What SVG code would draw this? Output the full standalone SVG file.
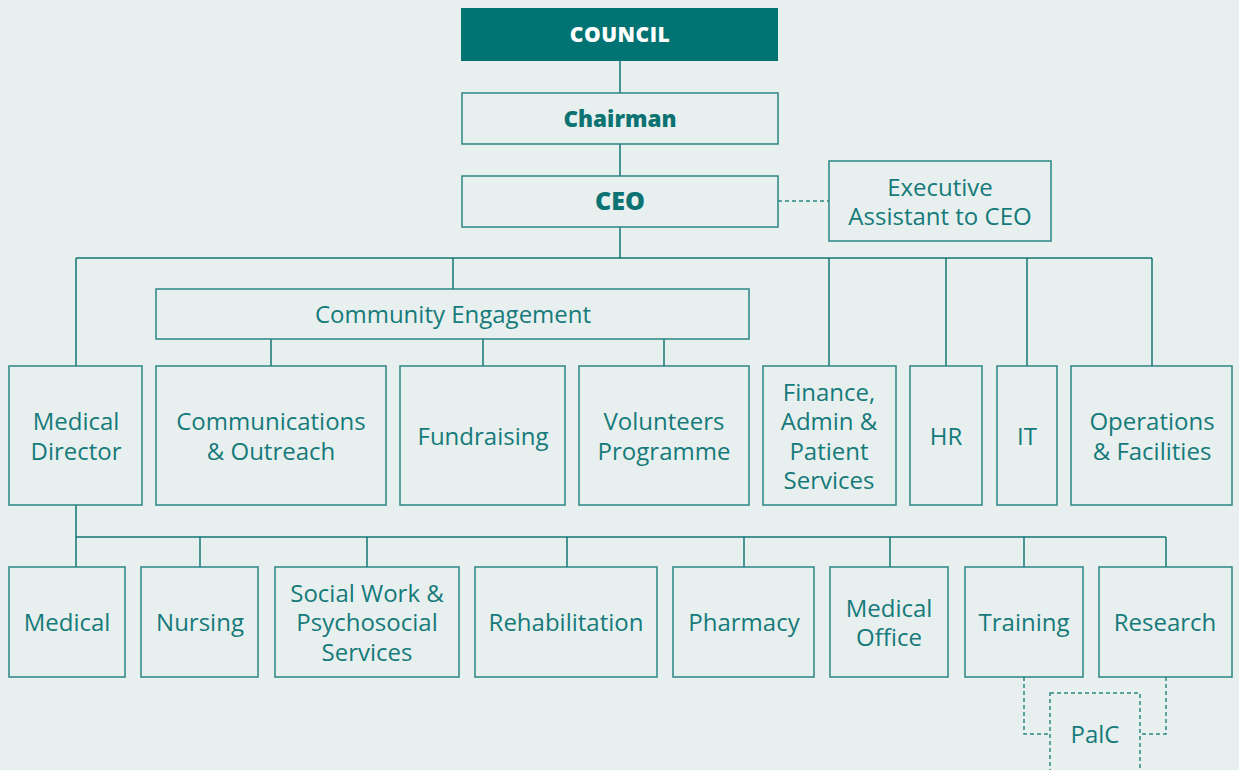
<svg xmlns="http://www.w3.org/2000/svg" width="1239" height="770" viewBox="0 0 1239 770">
<style>
.bx{fill:none;stroke:#2b8585;stroke-width:1.5}
.ln{fill:none;stroke:#137575;stroke-width:1.5}
.ds{fill:none;stroke:#2b8585;stroke-width:1.5;stroke-dasharray:4 3}
.t{font-family:"Open Sans",Lato,sans-serif;font-size:24px;font-weight:400;fill:#167a7a;text-anchor:middle}
.b{font-family:"Open Sans",Lato,sans-serif;font-size:22.5px;font-weight:800;fill:#0c7272;text-anchor:middle}
</style>
<rect width="1239" height="770" fill="#e8f0ef"/>
<g id="connectors">
<path class="ln" d="M620 61V93M620 144V176M620 227V258M76 258H1152M76 258V366M453 258V289M829 258V366M946 258V366M1027 258V366M1152 258V366M271 339V366M483 339V366M664 339V366M76 505V567M76 537H1166M200 537V567M367 537V567M567 537V567M744 537V567M890 537V567M1024 537V567M1166 537V567"/>
<path class="ds" d="M778 201H829M1024 677V734H1050M1166 677V734H1140"/>
</g>
<g id="council"><rect x="461" y="8" width="317" height="53" fill="#017373"/><text class="b" x="620" y="42" style="fill:#fff;font-size:21px;letter-spacing:0.5px">COUNCIL</text></g>
<g id="chairman"><rect class="bx" x="462" y="93" width="316" height="51"/><text class="b" x="620" y="127">Chairman</text></g>
<g id="ceo"><rect class="bx" x="462" y="176" width="316" height="51"/><text class="b" x="620" y="210" style="font-size:25px">CEO</text></g>
<g id="exec"><rect class="bx" x="829" y="161" width="222" height="80"/><text class="t" x="940" y="196">Executive</text><text class="t" x="940" y="225">Assistant to CEO</text></g>
<g id="community"><rect class="bx" x="156" y="289" width="593" height="50"/><text class="t" x="453" y="323">Community Engagement</text></g>
<g id="meddir"><rect class="bx" x="9" y="366" width="133" height="139"/><text class="t" x="76" y="430">Medical</text><text class="t" x="76" y="460">Director</text></g>
<g id="comms"><rect class="bx" x="156" y="366" width="230" height="139"/><text class="t" x="271" y="430">Communications</text><text class="t" x="271" y="460">&amp; Outreach</text></g>
<g id="fund"><rect class="bx" x="400" y="366" width="165" height="139"/><text class="t" x="483" y="445">Fundraising</text></g>
<g id="vol"><rect class="bx" x="579" y="366" width="170" height="139"/><text class="t" x="664" y="430">Volunteers</text><text class="t" x="664" y="460">Programme</text></g>
<g id="finance"><rect class="bx" x="763" y="366" width="133" height="139"/><text class="t" x="829" y="401">Finance,</text><text class="t" x="829" y="430">Admin &amp;</text><text class="t" x="829" y="460">Patient</text><text class="t" x="829" y="489">Services</text></g>
<g id="hr"><rect class="bx" x="910" y="366" width="72" height="139"/><text class="t" x="946" y="445">HR</text></g>
<g id="it"><rect class="bx" x="997" y="366" width="60" height="139"/><text class="t" x="1027" y="445">IT</text></g>
<g id="ops"><rect class="bx" x="1071" y="366" width="161" height="139"/><text class="t" x="1152" y="430">Operations</text><text class="t" x="1152" y="460">&amp; Facilities</text></g>
<g id="medical"><rect class="bx" x="9" y="567" width="116" height="110"/><text class="t" x="67" y="631">Medical</text></g>
<g id="nursing"><rect class="bx" x="141" y="567" width="117" height="110"/><text class="t" x="200" y="631">Nursing</text></g>
<g id="social"><rect class="bx" x="275" y="567" width="184" height="110"/><text class="t" x="367" y="602">Social Work &amp;</text><text class="t" x="367" y="631">Psychosocial</text><text class="t" x="367" y="661">Services</text></g>
<g id="rehab"><rect class="bx" x="475" y="567" width="182" height="110"/><text class="t" x="566" y="631">Rehabilitation</text></g>
<g id="pharmacy"><rect class="bx" x="673" y="567" width="141" height="110"/><text class="t" x="744" y="631">Pharmacy</text></g>
<g id="medoffice"><rect class="bx" x="830" y="567" width="118" height="110"/><text class="t" x="889" y="617">Medical</text><text class="t" x="889" y="646">Office</text></g>
<g id="training"><rect class="bx" x="965" y="567" width="118" height="110"/><text class="t" x="1024" y="631">Training</text></g>
<g id="research"><rect class="bx" x="1099" y="567" width="133" height="110"/><text class="t" x="1165" y="631">Research</text></g>
<g id="palc"><rect class="ds" x="1050" y="693" width="90" height="90"/><text class="t" x="1095" y="743">PalC</text></g>
</svg>
